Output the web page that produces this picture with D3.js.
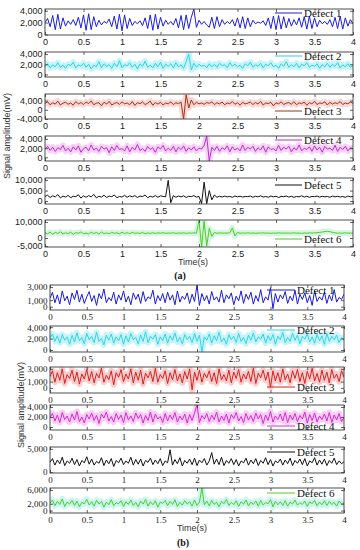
<!DOCTYPE html>
<html>
<head>
<meta charset="utf-8">
<script src="https://cdn.jsdelivr.net/npm/d3@7"></script>
<style>
  body { margin: 0; background: #fff; }
  svg { display: block; }
</style>
</head>
<body>
<svg id="chart" width="360" height="550"></svg>
<script>
//// DATA

// time axis (s), signals are sampled evenly from 0 to 4 s
const xTicks = [0, 0.5, 1, 1.5, 2, 2.5, 3, 3.5, 4]
const legendNames = ["Defect 1", "Defect 2", "Defect 3", "Defect 4", "Defect 5", "Defect 6"]

// (a) signal amplitudes in mV
const sigA1 = [2000,2700,1300,3200,800,3400,900,2800,1400,2300,1700,2500,1500,2900,1100,3300,
  700,3500,800,3000,1300,2400,1600,2200,1900,2600,1300,3100,900,3400,600,3300,
  1000,2700,1500,2200,1800,2300,1500,2800,1000,3300,700,3400,900,2900,1400,2400,
  1700,2200,1600,2700,1100,3200,800,3300,1000,2900,4300,1200,2400,1700,2200,1600,
  1200,2900,1000,3000,1300,2500,1700,2200,1800,2500,1400,2800,1100,3000,1000,2800,
  1300,2400,1800,2100,1900,2300,1500,2800,1000,3100,800,3200,900,3000,1100,2700,
  1400,2500,1600,2800,1200,3000,900,3100,1000,2800,1300,2400,1800,2200,1700,2500,
  1300,2900,1000,3100,900,2800,1400,2500,1800]
const sigA2 = [1600,2100,1300,1900,1500,2300,1400,1800,1200,2000,1700,2400,1300,1900,1600,2200,
  1400,2000,1100,1800,1500,2500,1300,2100,1600,1900,1200,2200,1500,2700,1300,1900,
  1700,2300,1400,2000,1100,2100,1600,2600,1400,1800,1300,2200,1500,2400,1200,2000,
  1600,2100,1300,2300,1500,1900,1200,2500,4000,900,2200,1400,2000,1600,1800,1300,
  2100,1500,2000,1400,2200,1700,1900,1300,2300,1600,2000,1500,1800,1200,2100,1700,
  2400,1400,1900,1600,2200,1300,2000,1700,2300,1500,1800,1200,2100,1600,2500,1400,
  1900,1500,2200,1300,2000,1700,2300,1400,1800,1600,2100,1200,1900,1500,2200,1400,
  2000,1600,2300,1300,1900,1500,2100,1400,1800]
const sigA3 = [2800,3500,2200,3100,2500,3800,2100,2900,3300,2400,3000,2000,3600,2600,3200,2300,
  3400,2700,3900,2200,2900,3100,1800,3300,2500,3700,2100,2800,3200,2400,3500,2600,
  3000,2200,3600,1900,3100,2700,3400,2300,2900,3800,2000,3200,2500,3300,2100,3000,
  2600,3500,2300,3100,2700,3400,-4000,6500,800,4300,2200,3300,2600,3000,2400,3200,
  2800,3500,2300,3100,2600,3400,2200,3000,2700,3600,2400,3100,2000,3300,2600,2900,
  3400,2300,3200,2500,3700,2100,3000,2700,3300,1700,3100,2600,3500,2300,2900,3200,
  2400,3600,2200,3100,2700,3400,2000,3200,2600,3700,2300,3000,2800,3500,2100,3300,
  2500,3100,2700,3600,2300,3000,2600,3400,2800]
const sigA4 = [1800,2400,1500,2200,1300,2100,1700,2600,1400,2000,1200,2300,1600,2500,1100,1900,
  2200,1400,2700,1600,2000,1300,2400,1800,2100,1000,2300,1500,2600,1700,1900,1400,
  2500,1200,2200,1600,2800,1500,1900,1300,2400,1700,2100,1100,2300,1800,2600,1400,
  2000,1500,2400,1200,2200,1700,2500,1300,2100,1600,2300,1400,2000,1800,2600,4600,
  -800,2200,1500,2400,1300,2100,1700,2500,1200,2300,1600,2000,1400,2700,1500,2200,
  1800,2400,1300,2100,1600,2500,1100,2300,1700,1900,1400,2600,1500,2200,1800,2400,
  1200,2100,1600,2700,1400,2000,1700,2300,1300,2500,1600,2200,1100,2400,1800,2000,
  1500,2600,1300,2200,1700,2400,1400,2100,1900]
const sigA5 = [2200,2800,1700,2500,2000,3100,1500,2400,1900,2700,1600,2300,2100,3000,1400,2500,
  1800,2600,2000,3200,1500,2300,1900,2800,1700,2400,2100,2900,1600,2200,1900,2700,
  1800,2500,2000,2600,1700,2400,2100,2900,1600,2300,1900,2600,1800,2500,2200,2000,
  9900,-800,2600,1800,2400,2000,2500,1700,2300,2100,2600,1900,2200,-1200,9000,-1300,
  5000,600,2900,1800,2300,1900,2400,2000,2200,1800,2400,2000,2300,1900,2200,2100,
  2400,1800,2300,2000,2500,1900,2200,1800,2400,2000,2300,1700,2200,2100,2400,1900,
  2300,1800,2200,2000,2500,1900,2300,1800,2200,2100,2400,1900,2300,2000,2200,1800,
  2400,2000,2300,1900,2200,1800,2400,2000,2200]
const sigA6 = [3200,2600,3700,2400,3500,2800,3900,2500,3300,2700,3600,2300,3400,2900,3800,2600,
  3100,2500,3600,2800,3400,2400,3700,2700,3200,2600,3500,2900,3300,2500,3600,2800,
  3300,2700,3500,2900,3200,2800,3400,2700,3100,2900,3300,2800,3200,3000,3300,2900,
  3100,3000,3200,2900,3100,3000,3200,2900,3100,3000,3200,3000,11000,-5500,10500,-5000,
  6000,1000,3500,2900,3200,3000,3100,3000,3300,6300,1300,3400,3000,3100,3000,3200,
  3000,3100,2900,3100,3000,3200,3000,3100,2900,3100,3000,3200,3000,3100,3000,3100,
  3000,3200,3000,3100,2900,3100,3000,3200,3100,3200,3300,3500,3700,4000,4200,3900,
  3500,3200,3000,3100,3000,3200,3000,3100,3000]

// (b) signal amplitudes in mV
const sigB1 = [1300,2200,600,1800,400,2400,900,1600,300,2100,1100,2500,700,1900,500,1500,
  2300,800,1700,200,2000,1200,2700,600,1400,900,2200,400,1800,1000,2400,700,
  1600,300,2100,1100,1900,500,2300,800,1500,1200,2500,400,1700,900,2000,600,
  2200,1000,1800,300,2400,700,1600,1100,2100,500,1900,800,3300,200,2000,900,
  1700,400,2300,1000,1500,700,2500,600,1800,1200,2100,300,1600,900,2400,500,
  1900,1100,2200,400,1700,800,2600,600,1500,1000,2900,-300,2000,700,1800,1200,
  2300,500,1600,900,2500,400,1900,1100,2100,600,1700,200,2400,800,1500,1000,
  2200,500,1800,900,2600,700,1400,1100,1900]
const sigB2 = [2100,2800,1500,2500,1200,2700,1700,2300,1000,2600,1400,3000,1600,2200,1100,2900,
  1800,2400,1300,3100,1500,2000,900,2600,1700,2800,1200,2300,1600,2700,1000,2500,
  1400,2900,1800,2200,1100,2600,1500,3200,1300,2400,1900,2700,1000,2300,1600,2800,
  1200,2500,1700,3000,1400,2200,1100,2700,1800,2400,1300,2900,1500,2600,-300,2300,
  1700,2800,1200,2500,1600,3100,1400,2100,1000,2700,1800,2400,1300,2900,1500,2200,
  1100,2600,1700,3000,1400,2300,1900,2800,1200,2500,1600,2700,1000,2400,1800,3100,
  1300,2200,1500,2900,1700,2600,1100,2400,1900,2800,1400,2300,1200,2700,1600,2500,
  1000,2900,1500,2400,1800,2600,1300,2200,1700]
const sigB3 = [1800,2700,900,2400,1200,3000,700,2100,1500,2800,1000,2500,600,2200,1400,2900,
  1100,2600,800,2300,1600,3100,900,2000,1300,2700,500,2400,1700,2900,1000,2200,
  1400,3000,800,2500,1200,2800,600,2300,1600,2600,1000,3100,900,2100,1500,2700,
  700,2400,1300,2900,1100,2200,800,2600,1400,3000,-300,2500,1200,2800,900,2300,
  1600,2700,1000,2400,700,3000,1300,2100,1100,2800,800,2500,1500,2900,900,2200,
  1400,2600,1000,3100,700,2300,1600,2800,1200,2500,100,2700,1100,2400,900,3000,
  1300,2200,800,2700,1500,2900,1000,2400,700,2600,1400,3100,1100,2300,900,2800,
  1200,2500,800,2900,1500,2200,1000,2700,1700]
const sigB4 = [1900,2700,1200,2400,900,2900,1500,2200,1000,2600,1400,3100,1100,2000,800,2500,
  1600,2800,1300,2300,700,2600,1800,3000,1200,2100,1000,2700,1500,2400,900,2900,
  1400,2200,1100,2800,1700,2500,800,2300,1300,3000,1000,2600,1600,2100,900,2700,
  1200,2400,1500,2900,1000,2200,1400,2600,800,2500,1300,2800,4400,900,2300,1600,
  2700,1100,2400,1500,3000,1000,2200,1300,2600,800,2500,1700,2900,1200,2100,900,
  2700,1400,2300,1100,2800,1600,2500,700,2400,1300,3100,1000,2200,1500,2600,1200,
  2900,900,2400,1400,2700,1100,2300,1600,3000,800,2500,1300,2800,1000,2200,1500,
  2600,1200,2900,900,2400,1400,2700,1100,2000]
const sigB5 = [2100,2900,1500,2600,1800,3200,1400,2400,1900,3000,1600,2700,1300,2500,2000,3300,
  1700,2800,1500,2300,1900,3100,1400,2600,1800,2900,1200,2500,2000,3000,1600,2400,
  1900,3200,1500,2700,1700,2800,1300,2500,2100,3000,1600,2600,1800,2900,1400,2400,
  2000,4800,1500,2700,1800,3100,1300,2500,1900,2800,1600,3000,1400,2600,2000,2900,
  1500,2400,4200,1700,2800,1600,3200,1400,2500,1900,2900,1600,2700,1300,2400,2000,
  3000,1500,2600,1800,2900,1400,2500,1900,3100,1600,2700,1300,2400,2000,2800,1500,
  2600,1800,3000,1400,2500,1900,2800,1600,2900,1300,2400,2000,3100,1500,2600,1700,
  2800,1400,2500,1900,3000,1600,2400,1800,2200]
const sigB6 = [2200,3100,1400,2700,1800,3400,1200,2500,1900,3000,1500,2800,1100,2400,2000,3300,
  1600,2600,1300,3000,1900,2700,1000,2500,1700,3200,1400,2300,2000,2900,1200,2600,
  1800,3100,1500,2400,1100,2800,1900,3300,1300,2600,1700,2900,1000,2500,2100,3000,
  1400,2700,1800,3200,1200,2400,1600,2900,1900,2600,1300,3100,1500,2500,6600,1700,
  2800,1400,3000,1800,2500,1100,2700,2000,3300,1500,2400,1700,2900,1200,2600,1900,
  3100,1400,2500,1800,2800,1300,3000,1600,2400,2000,3200,1100,2700,1700,2600,1500,
  2900,1300,2500,1900,3100,1600,2300,1800,2800,1200,2600,2000,3000,1400,2500,1700,
  2900,1500,2700,1800,2400,1300,2800,1900,2200]

// y axis ticks and limits of each panel
const yTicksA = [[0, 2000, 4000], [0, 2000, 4000], [-4000, 0, 4000], [0, 2000, 4000], [0, 5000, 10000], [-5000, 0, 10000]]
const yLimitsA = [[-100, 4300], [-500, 4400], [-4000, 6900], [-800, 4650], [-1400, 11000], [-5600, 11200]]
const yTicksB = [[0, 1000, 3000], [0, 2000, 4000], [0, 1000, 3000], [0, 2000, 4000], [0, 5000], [0, 2000, 6000]]
const yLimitsB = [[-500, 3300], [-350, 4200], [-800, 3300], [-600, 4400], [-200, 5400], [-700, 6600]]

//// STYLE / LAYOUT

const sansFont = "'Liberation Sans', Arial, sans-serif"
const serifFont = "'Liberation Serif', 'Times New Roman', serif"
const frameColor = "#3a3a3a"

const figA = {
  data: [sigA1, sigA2, sigA3, sigA4, sigA5, sigA6],
  ticks: yTicksA, limits: yLimitsA,
  x0: 45, x1: 353,
  tops:    [9, 52, 94, 136, 178, 220],
  bottoms: [35, 77, 119, 161, 204, 247],
  colors: ["#1c1ce0", "#2cd2e6", "#9c3412", "#b22fdc", "#111111", "#4ccd1c"],
  halos:  [null, "#aef0f6", "#f8c6c4", "#f6bdf0", null, "#c6f1d8"],
  legendY: [13, 56, 111, 140, 185, 239],
  legendX: [275, 302, 304],
  tickFont: sansFont, tickSize: 9,
  ylabel: [7, 136], xlabel: [193, 262], tag: ["(a)", 180, 275]
}

const figB = {
  data: [sigB1, sigB2, sigB3, sigB4, sigB5, sigB6],
  ticks: yTicksB, limits: yLimitsB,
  x0: 50, x1: 344,
  tops:    [285, 326, 367, 405, 447, 488],
  bottoms: [310, 352, 393, 430, 473, 513],
  colors: ["#1a1ad8", "#2ed4e8", "#d42222", "#d62ad6", "#111111", "#50d01c"],
  halos:  [null, "#b0f0f7", "#f8b8b6", "#f6b8f0", null, "#b4f2ee"],
  legendY: [290, 330, 387, 426, 452, 493],
  legendX: [267, 295, 297],
  tickFont: serifFont, tickSize: 9,
  ylabel: [21, 405], xlabel: [192, 528], tag: ["(b)", 183, 542]
}

const svg = d3.select("#chart")
const fmtY = d => d3.format(",")(d).replace("\u2212", "-")
const fmtX = d3.format("~g")

let clipCount = 0

// style the ticks of an axis group the MATLAB way
function styleAxis(g, fig) {
  g.select(".domain").remove()
  g.selectAll(".tick line").attr("stroke", frameColor).attr("stroke-width", 0.8)
  g.selectAll(".tick text")
    .attr("fill", "#222")
    .style("font-family", fig.tickFont)
    .style("font-size", fig.tickSize + "px")
}

function drawPanel(fig, k) {
  const values = fig.data[k]
  const n = values.length
  const top = fig.tops[k], bottom = fig.bottoms[k]

  const x = d3.scaleLinear().domain([0, 4]).range([fig.x0, fig.x1])
  const y = d3.scaleLinear().domain(fig.limits[k]).range([bottom, top])

  const g = svg.append("g")

  // clip the signal to the axes box
  const id = "clip" + (clipCount++)
  svg.append("clipPath").attr("id", id)
    .append("rect")
    .attr("x", fig.x0).attr("y", top)
    .attr("width", fig.x1 - fig.x0).attr("height", bottom - top)

  const line = d3.line()
    .x((d, i) => x(i * 4 / (n - 1)))
    .y(d => y(d))

  const plot = g.append("g").attr("clip-path", `url(#${id})`)

  // soft colour band that sits round the trace in the scan
  if (fig.halos[k])
    plot.append("path")
      .datum(values)
      .attr("d", line)
      .attr("fill", "none")
      .attr("stroke", fig.halos[k])
      .attr("stroke-width", 6)
      .attr("stroke-linejoin", "round")
      .attr("opacity", 0.7)

  plot.append("path")
    .datum(values)
    .attr("d", line)
    .attr("fill", "none")
    .attr("stroke", fig.colors[k])
    .attr("stroke-width", 1)
    .attr("stroke-linejoin", "round")

  // box
  g.append("rect")
    .attr("x", fig.x0).attr("y", top)
    .attr("width", fig.x1 - fig.x0).attr("height", bottom - top)
    .attr("fill", "none")
    .attr("stroke", frameColor)
    .attr("stroke-width", 0.9)

  // ticks on all four sides, pointing in
  g.append("g")
    .attr("transform", `translate(0,${bottom})`)
    .call(d3.axisBottom(x).tickValues(xTicks).tickFormat(fmtX).tickSize(-3).tickPadding(3.5))
    .call(a => styleAxis(a, fig))
  g.append("g")
    .attr("transform", `translate(0,${top})`)
    .call(d3.axisTop(x).tickValues(xTicks).tickFormat("").tickSize(-3))
    .call(a => styleAxis(a, fig))
  g.append("g")
    .attr("transform", `translate(${fig.x0},0)`)
    .call(d3.axisLeft(y).tickValues(fig.ticks[k]).tickFormat(fmtY).tickSize(-3).tickPadding(2.5))
    .call(a => styleAxis(a, fig))
  g.append("g")
    .attr("transform", `translate(${fig.x1},0)`)
    .call(d3.axisRight(y).tickValues(fig.ticks[k]).tickFormat("").tickSize(-3))
    .call(a => styleAxis(a, fig))

  // legend
  const ly = fig.legendY[k]
  g.append("line")
    .attr("x1", fig.legendX[0]).attr("x2", fig.legendX[1])
    .attr("y1", ly).attr("y2", ly)
    .attr("stroke", fig.colors[k])
    .attr("stroke-width", 1)
  g.append("text")
    .attr("x", fig.legendX[2]).attr("y", ly)
    .attr("dy", "0.35em")
    .style("font-family", serifFont)
    .style("font-size", "11px")
    .attr("fill", "#111")
    .text(legendNames[k])
}

function drawFigure(fig) {
  fig.data.forEach((_, k) => drawPanel(fig, k))

  svg.append("text")
    .attr("transform", `translate(${fig.ylabel[0]},${fig.ylabel[1]}) rotate(-90)`)
    .attr("text-anchor", "middle")
    .attr("dy", "0.35em")
    .style("font-family", sansFont)
    .style("font-size", "9px")
    .attr("fill", "#333")
    .text("Signal amplitude(mV)")

  svg.append("text")
    .attr("x", fig.xlabel[0]).attr("y", fig.xlabel[1])
    .attr("text-anchor", "middle")
    .attr("dy", "0.35em")
    .style("font-family", sansFont)
    .style("font-size", "9px")
    .attr("fill", "#333")
    .text("Time(s)")

  svg.append("text")
    .attr("x", fig.tag[1]).attr("y", fig.tag[2])
    .attr("text-anchor", "middle")
    .attr("dy", "0.35em")
    .style("font-family", serifFont)
    .style("font-size", "10px")
    .style("font-weight", "bold")
    .attr("fill", "#111")
    .text(fig.tag[0])
}

drawFigure(figA)
drawFigure(figB)
</script>
</body>
</html>
